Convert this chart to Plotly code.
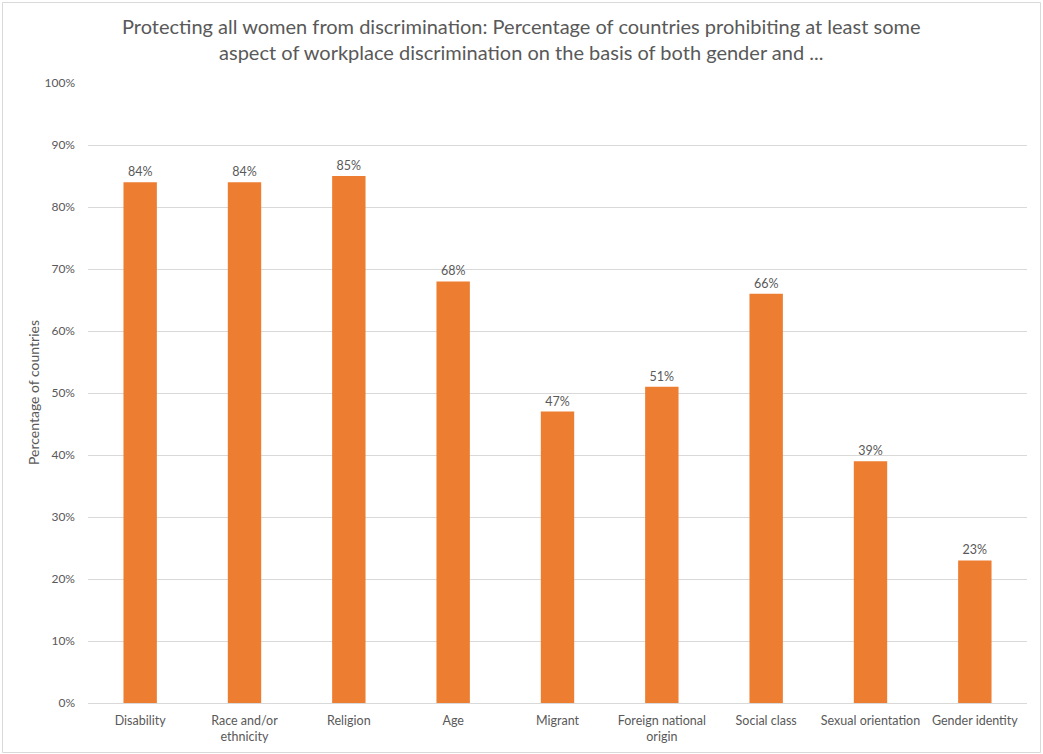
import plotly.graph_objects as go

categories = ["Disability", "Race and/or<br>ethnicity", "Religion", "Age", "Migrant",
              "Foreign national<br>origin", "Social class", "Sexual orientation", "Gender identity"]
values = [84, 84, 85, 68, 47, 51, 66, 39, 23]
tick_vals = [0, 10, 20, 30, 40, 50, 60, 70, 80, 90, 100]
tick_text = [f"{v}%" for v in tick_vals]

W, H = 1043, 754
ml, mr, mt, mb = 88, 16, 83, 51
pw, ph = W - ml - mr, H - mt - mb

def px_x(x):
    return (x - ml) / pw

def px_y(y):
    return (H - mb - y) / ph

font_family = "Lato, Noto Sans, sans-serif"
gray = "#595959"

fig = go.Figure(go.Bar(
    x=categories, y=values,
    marker=dict(color="#ED7D31", line=dict(width=0)),
    text=[f"{v}%" for v in values],
    textposition="outside",
    textfont=dict(size=12.5, color=gray, family=font_family),
    cliponaxis=False,
))

fig.update_layout(
    width=W, height=H,
    margin=dict(l=ml, r=mr, t=mt, b=mb),
    paper_bgcolor="white", plot_bgcolor="white",
    bargap=0.68,
    showlegend=False,
    font=dict(family=font_family, color=gray, size=12.5),
    yaxis=dict(
        range=[0, 100], tickvals=tick_vals, ticktext=tick_text,
        showgrid=True, gridcolor="#d9d9d9", gridwidth=1,
        zeroline=True, zerolinecolor="#d9d9d9", zerolinewidth=1,
        showline=False, ticks="", ticklen=0, automargin=False,
        tickfont=dict(size=12, color=gray), ticklabelstandoff=12,
    ),
    xaxis=dict(
        showline=True, linecolor="#d9d9d9", linewidth=1,
        ticks="", tickfont=dict(size=12.5, color=gray), tickangle=0,
        ticklabelstandoff=6, automargin=False,
    ),
    annotations=[
        dict(
            text="Protecting all women from discrimination: Percentage of countries prohibiting at least some<br>aspect of workplace discrimination on the basis of both gender and ...",
            xref="paper", yref="paper", x=0.5 * (px_x(125) + px_x(918)), xanchor="center",
            y=px_y(39), yanchor="middle", showarrow=False, align="center",
            font=dict(size=20, color=gray, family=font_family),
        ),
        dict(
            text="Percentage of countries", textangle=-90,
            xref="paper", yref="paper", x=px_x(33), xanchor="center",
            y=px_y(393), yanchor="middle", showarrow=False,
            font=dict(size=14, color=gray, family=font_family),
        ),
    ],
    shapes=[dict(
        type="rect", xref="paper", yref="paper",
        x0=px_x(2.5), x1=px_x(1040.5), y0=px_y(752.5), y1=px_y(2.5),
        line=dict(color="#d9d9d9", width=1), fillcolor="rgba(0,0,0,0)", layer="below",
    )],
)

fig.write_html("out.html")
